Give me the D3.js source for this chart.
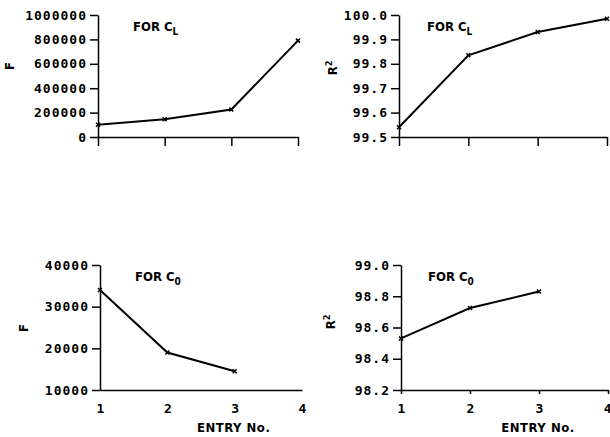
<!DOCTYPE html>
<html lang="en">
<head>
<meta charset="UTF-8">
<title>F and R2 vs entry number</title>
<script src="https://d3js.org/d3.v7.min.js"></script>
<style>
    body { margin: 0; background: #fff; }
    svg { display: block; }
    .tick text, .lbl { font-family: "DejaVu Sans Mono", monospace; font-weight: bold; font-size: 13px; fill: #000; }
    .title, .xlab, .ylab { font-family: "DejaVu Sans Condensed", "DejaVu Sans", sans-serif; font-weight: bold; fill: #000; }
    .domain, .tick line { stroke: #000; stroke-width: 1.5px; }
    .series { fill: none; stroke: #000; stroke-width: 2px; }
</style>
</head>
<body>
<svg id="chart" width="610" height="437"></svg>
<script>
// entry numbers
const entries = [1, 2, 3, 4];

// series
const fCL = [100000, 145000, 225000, 790000];
const r2CL = [99.54, 99.835, 99.93, 99.985];
const fC0 = [34000, 19000, 14500];
const r2C0 = [98.53, 98.725, 98.83];

// tick values
const ticksFCL = [0, 200000, 400000, 600000, 800000, 1000000];
const ticksR2CL = [99.5, 99.6, 99.7, 99.8, 99.9, 100.0];
const ticksFC0 = [10000, 20000, 30000, 40000];
const ticksR2C0 = [98.2, 98.4, 98.6, 98.8, 99.0];

const panels = [
    { values: fCL, xr: [98, 298], yr: [137, 15], yd: [0, 1000000], ticks: ticksFCL, fmt: d3.format("d"),
      sub: "L", ylab: "F", ylx: 14, yly: 66, tx: 133, ty: 31, xTicks: 9, bottom: false },
    { values: r2CL, xr: [399, 607], yr: [137, 15], yd: [99.5, 100.0], ticks: ticksR2CL, fmt: d3.format(".1f"),
      sub: "L", ylab: "R", ylx: 337, yly: 68, tx: 427, ty: 31, xTicks: 9, bottom: false },
    { values: fC0, xr: [100, 302], yr: [390, 265], yd: [10000, 40000], ticks: ticksFC0, fmt: d3.format("d"),
      sub: "0", ylab: "F", ylx: 28, yly: 328, tx: 135, ty: 281, xTicks: 0, bottom: true },
    { values: r2C0, xr: [401, 608], yr: [390, 265], yd: [98.2, 99.0], ticks: ticksR2C0, fmt: d3.format(".1f"),
      sub: "0", ylab: "R", ylx: 335, yly: 322, tx: 428, ty: 281, xTicks: 4, bottom: true }
];

const svg = d3.select("#chart");

panels.forEach(p => {
    const x = d3.scaleLinear().domain([1, 4]).range(p.xr);
    const y = d3.scaleLinear().domain(p.yd).range(p.yr);
    const g = svg.append("g");

    // y axis
    g.append("g")
        .attr("transform", `translate(${p.xr[0]},0)`)
        .call(d3.axisLeft(y).tickValues(p.ticks).tickFormat(p.fmt).tickSize(8).tickSizeOuter(0).tickPadding(3))
        .selectAll("text").attr("letter-spacing", 1);

    // x axis
    const xa = g.append("g")
        .attr("transform", `translate(0,${p.yr[0]})`)
        .call(d3.axisBottom(x).tickValues(entries).tickSize(p.xTicks).tickSizeOuter(0)
            .tickPadding(p.bottom ? 14 - p.xTicks : 3)
            .tickFormat(p.bottom ? d3.format("d") : ""));
    xa.selectAll("text").attr("font-size", 14)
        .filter(d => x(d) > 604).attr("text-anchor", "end").attr("dx", 3);

    if (p.bottom) {
        g.append("text").attr("class", "xlab")
            .attr("x", (x(2) + x(4)) / 2 - 1).attr("y", 432)
            .attr("text-anchor", "middle").attr("font-size", 13)
            .attr("letter-spacing", 0.5)
            .text("ENTRY No.");
    }

    // line
    const line = d3.line().x((d, i) => x(entries[i])).y(d => y(d));
    g.append("path").attr("class", "series").attr("d", line(p.values));

    // small cross markers
    g.selectAll(".mk").data(p.values).enter().append("path")
        .attr("d", (d, i) => {
            const cx = x(entries[i]), cy = y(d);
            return `M${cx - 2},${cy - 2}L${cx + 2},${cy + 2}M${cx - 2},${cy + 2}L${cx + 2},${cy - 2}`;
        })
        .attr("stroke", "#000").attr("stroke-width", 1.5);

    // panel title
    const t = g.append("text").attr("class", "title")
        .attr("x", p.tx).attr("y", p.ty).attr("font-size", 13);
    t.append("tspan").text("FOR C");
    t.append("tspan").attr("dy", 4).attr("font-size", 10).text(p.sub);

    // y label
    const yl = g.append("text").attr("class", "ylab")
        .attr("transform", `translate(${p.ylx},${p.yly}) rotate(-90)`)
        .attr("text-anchor", "middle").attr("font-size", 13);
    yl.append("tspan").text(p.ylab);
    if (p.ylab === "R") yl.append("tspan").attr("dy", -5).attr("font-size", 9).text("2");
});
</script>
</body>
</html>
